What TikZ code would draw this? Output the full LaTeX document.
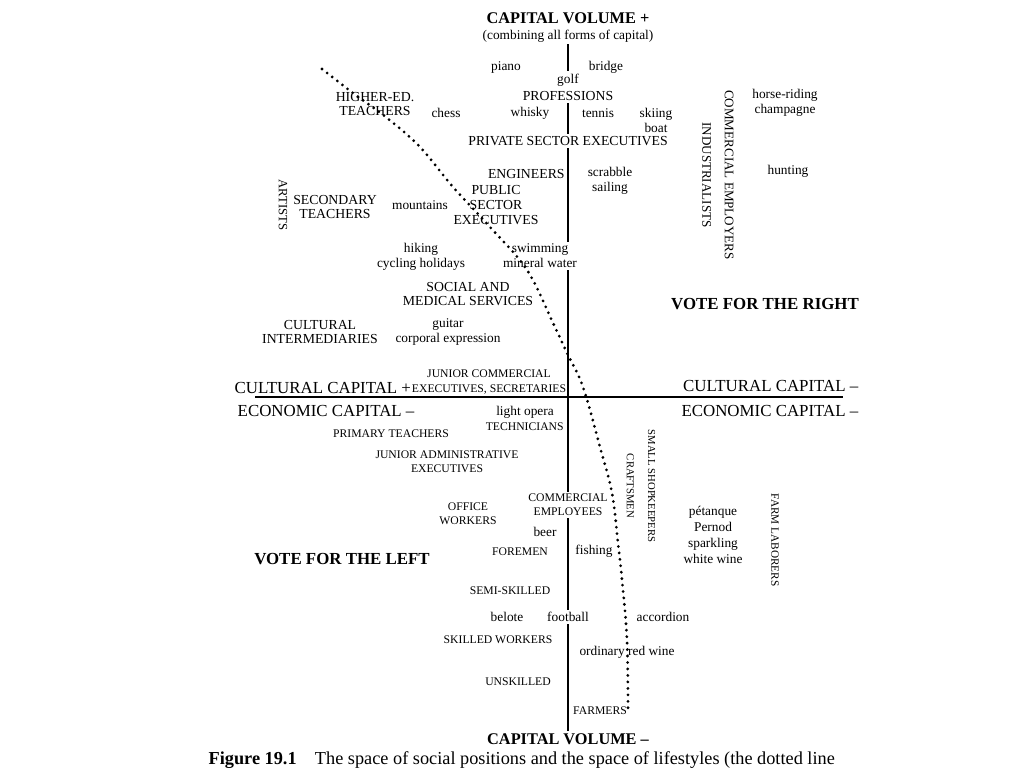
\documentclass[tikz,border=0pt]{standalone}
\usepackage{fontspec}
\setmainfont{Liberation Serif}
\usetikzlibrary{positioning,calc}

\begin{document}
\begin{tikzpicture}[x=0.025cm, y=-0.025cm,
    heading/.style={font=\fontsize{11.6}{13}\selectfont\bfseries, inner sep=1.5pt},
    pole/.style={font=\fontsize{12}{14}\selectfont, inner sep=1pt},
    group/.style={font=\fontsize{9.8}{10.4}\selectfont, align=center, inner sep=1.5pt},
    minor/.style={font=\fontsize{8.3}{10}\selectfont, align=center, inner sep=1.5pt},
    taste/.style={font=\fontsize{9.5}{10.6}\selectfont, align=center, inner sep=1.5pt},
    sideways/.style={rotate=-90},
    axisline/.style={draw, line width=1.3pt},
    divider/.style={draw, line width=2.2pt, line cap=round, dash pattern=on 0pt off 4.6pt}]

    \useasboundingbox (0,0) rectangle (1024,768);

    \node [heading] (cvtop) at (568,18) {CAPITAL VOLUME +};
    \node [taste, below=1pt of cvtop] (combining) {(combining all forms of capital)};
    \node [heading] (cvbot) at (568,739) {CAPITAL VOLUME --};
    \node [pole, anchor=west] (ccplus) at (233,388) {CULTURAL CAPITAL +};
    \node [pole, anchor=west] (ecleft) at (236,411) {ECONOMIC CAPITAL --};
    \node [pole, anchor=east] (ccminus) at (860,386) {CULTURAL CAPITAL --};
    \node [pole, anchor=east] (ecright) at (860,411) {ECONOMIC CAPITAL --};
    \node [heading, font=\fontsize{12}{14}\selectfont\bfseries] (right) at (765,304) {VOTE FOR THE RIGHT};
    \node [heading, font=\fontsize{12}{14}\selectfont\bfseries] (left) at (342,559) {VOTE FOR THE LEFT};

    \node [group] (profs) at (568,96) {PROFESSIONS};
    \node [group] (pse) at (568,141) {PRIVATE SECTOR EXECUTIVES};
    \node [group] (hied) at (375,104) {HIGHER-ED.\\TEACHERS};
    \node [group, anchor=east] (eng) at (567,174) {ENGINEERS};
    \node [group] (pubsec) at (496,205) {PUBLIC\\SECTOR\\EXECUTIVES};
    \node [group] (second) at (335,207) {SECONDARY\\TEACHERS};
    \node [group, sideways, font=\fontsize{9}{10}\selectfont] (artists) at (283,205) {ARTISTS};
    \node [group, sideways, font=\fontsize{9.3}{16}\selectfont] (employers) at (718,175) {COMMERCIAL EMPLOYERS\\INDUSTRIALISTS};
    \node [group] (social) at (468,294) {SOCIAL AND\\MEDICAL SERVICES};
    \node [group] (culint) at (320,332) {CULTURAL\\INTERMEDIARIES};

    \node [taste] (piano) at (506,68) {piano};
    \node [taste] (bridge) at (606,67) {bridge};
    \node [taste] (golf) at (568,80) {golf};
    \node [taste] (whisky) at (530,113) {whisky};
    \node [taste] (tennis) at (598,113) {tennis};
    \node [taste] (skiing) at (656,120) {skiing\\boat};
    \node [taste] (chess) at (446,113) {chess};
    \node [taste] (scrabble) at (610,181) {scrabble\\sailing};
    \node [taste] (mountains) at (420,205) {mountains};
    \node [taste] (horse) at (785,103) {horse-riding\\champagne};
    \node [taste] (hunting) at (788,171) {hunting};
    \node [taste] (hiking) at (421,257) {hiking\\cycling holidays};
    \node [taste] (swim) at (540,256) {swimming\\mineral water};
    \node [taste] (guitar) at (448,332) {guitar\\corporal expression};
    \node [taste] (opera) at (525,412) {light opera};
    \node [taste] (beer) at (545,532) {beer};
    \node [taste] (fishing) at (594,551) {fishing};
    \node [taste, font=\fontsize{9.5}{11.2}\selectfont] (petanque) at (713,535) {pétanque\\Pernod\\sparkling\\white wine};
    \node [taste] (belote) at (507,617) {belote};
    \node [taste] (football) at (568,617) {football};
    \node [taste] (accordion) at (663,617) {accordion};
    \node [taste] (redwine) at (627,652) {ordinary red wine};

    \node [minor] (junior) at (489,382) {JUNIOR COMMERCIAL\\EXECUTIVES, SECRETARIES};
    \node [minor, anchor=east] (techn) at (566,427) {TECHNICIANS};
    \node [minor] (primary) at (391,434) {PRIMARY TEACHERS};
    \node [minor] (juadmin) at (447,462) {JUNIOR ADMINISTRATIVE\\EXECUTIVES};
    \node [minor] (office) at (468,514) {OFFICE\\WORKERS};
    \node [minor] (comempl) at (568,505) {COMMERCIAL\\EMPLOYEES};
    \node [minor] (foremen) at (520,552) {FOREMEN};
    \node [minor, sideways, font=\fontsize{7.6}{15}\selectfont] (shop) at (641,486) {SMALL SHOPKEEPERS\\CRAFTSMEN};
    \node [minor, sideways, font=\fontsize{8}{10}\selectfont] (farmlab) at (775,540) {FARM LABORERS};
    \node [minor] (semi) at (510,591) {SEMI-SKILLED};
    \node [minor] (skilled) at (498,640) {SKILLED WORKERS};
    \node [minor] (unskilled) at (518,682) {UNSKILLED};
    \node [minor] (farmers) at (600,711) {FARMERS};

    \node [pole, font=\fontsize{13}{15}\selectfont, anchor=base west] (caption) at (207,764) {\textbf{Figure 19.1}\quad The space of social positions and the space of lifestyles (the dotted line};

    \coordinate (origin) at (568,397);
    \coordinate (west) at (255,397);
    \coordinate (east) at (843,397);

    \draw [axisline] (west) -- (east);
    \draw [axisline] (combining.south) -- (golf.north);
    \draw [axisline] (profs.south) -- (pse.north);
    \draw [axisline] (pse.south) -- (pse.south |- swim.north);
    \draw [axisline] (origin |- swim.south) -- (origin) -- (origin |- comempl.north);
    \draw [axisline] (comempl.south) -- (origin |- football.north);
    \draw [axisline] (origin |- football.south) -- (cvbot.north);

    \draw [divider] plot [smooth, tension=0.6] coordinates {(322,69) (353,93) (387,118) (420,147) (453,187) (490,227) (527,270) (553,323) (567,353) (583,387) (600,447) (612,493) (618,543) (622,580) (627,640) (628,712)};
\end{tikzpicture}
\end{document}
